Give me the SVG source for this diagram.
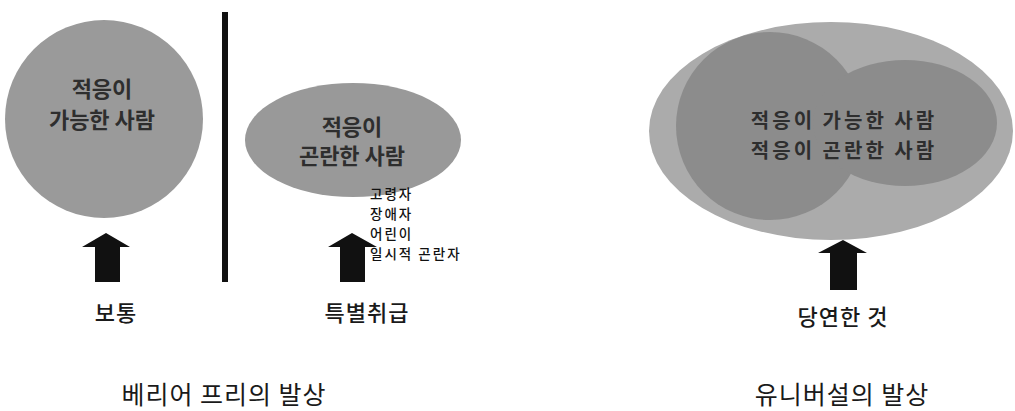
<svg xmlns="http://www.w3.org/2000/svg" width="1015" height="411" viewBox="0 0 1015 411">
<style>
.t{font-family:"Noto Sans CJK KR","Noto Sans",sans-serif;fill:#1a1a1a;text-anchor:middle}
.in{font-size:22px;font-weight:bold;fill:#2e2e2e}
.big{font-size:20px;letter-spacing:3px}
.lst{font-size:13.5px;text-anchor:start;fill:#111;letter-spacing:2px;font-weight:500}
.lab{font-size:22px;font-weight:500;letter-spacing:1px}
.ttl{font-size:25px;letter-spacing:1px}
.arr{fill:#111}
</style>
<rect width="1015" height="411" fill="#fff"/>
<g id="left-circle">
<circle cx="104" cy="119" r="99" fill="#9a9a9a"/>
<text class="t in" x="102" y="97">적응이</text>
<text class="t in" x="102" y="128">가능한 사람</text>
</g>
<g id="divider">
<rect x="222" y="12" width="6" height="270" fill="#111"/>
</g>
<g id="mid-ellipse">
<ellipse cx="353" cy="140" rx="108" ry="57" fill="#999"/>
<text class="t in" x="352" y="135">적응이</text>
<text class="t in" x="352" y="164">곤란한 사람</text>
</g>
<g id="mid-list">
<text class="t lst" x="370" y="199">고령자</text>
<text class="t lst" x="370" y="219">장애자</text>
<text class="t lst" x="370" y="239">어린이</text>
<text class="t lst" x="370" y="259">일시적 곤란자</text>
</g>
<g id="right-ellipse">
<ellipse cx="831" cy="131" rx="182" ry="109" fill="#ababab"/>
<circle cx="770" cy="126" r="94" fill="#8c8c8c"/>
<ellipse cx="905" cy="123" rx="92" ry="63" fill="#8c8c8c"/>
<text class="t in big" x="844" y="128">적응이 가능한 사람</text>
<text class="t in big" x="844" y="158">적응이 곤란한 사람</text>
</g>
<g id="connectors">
<polygon class="arr" points="106,233 130,247 120,247 120,282 95,282 95,247 82,247"/>
<polygon class="arr" points="352,233 377,247 365,247 365,282 340,282 340,247 328,247"/>
<polygon class="arr" points="843,240 867,253 857,253 857,290 830,290 830,253 818,253"/>
</g>
<g id="labels">
<text class="t lab" x="116" y="321">보통</text>
<text class="t lab" x="367" y="321">특별취급</text>
<text class="t lab" x="843" y="325">당연한 것</text>
<text class="t ttl" x="224" y="404">베리어 프리의 발상</text>
<text class="t ttl" x="842" y="404">유니버설의 발상</text>
</g>
</svg>
